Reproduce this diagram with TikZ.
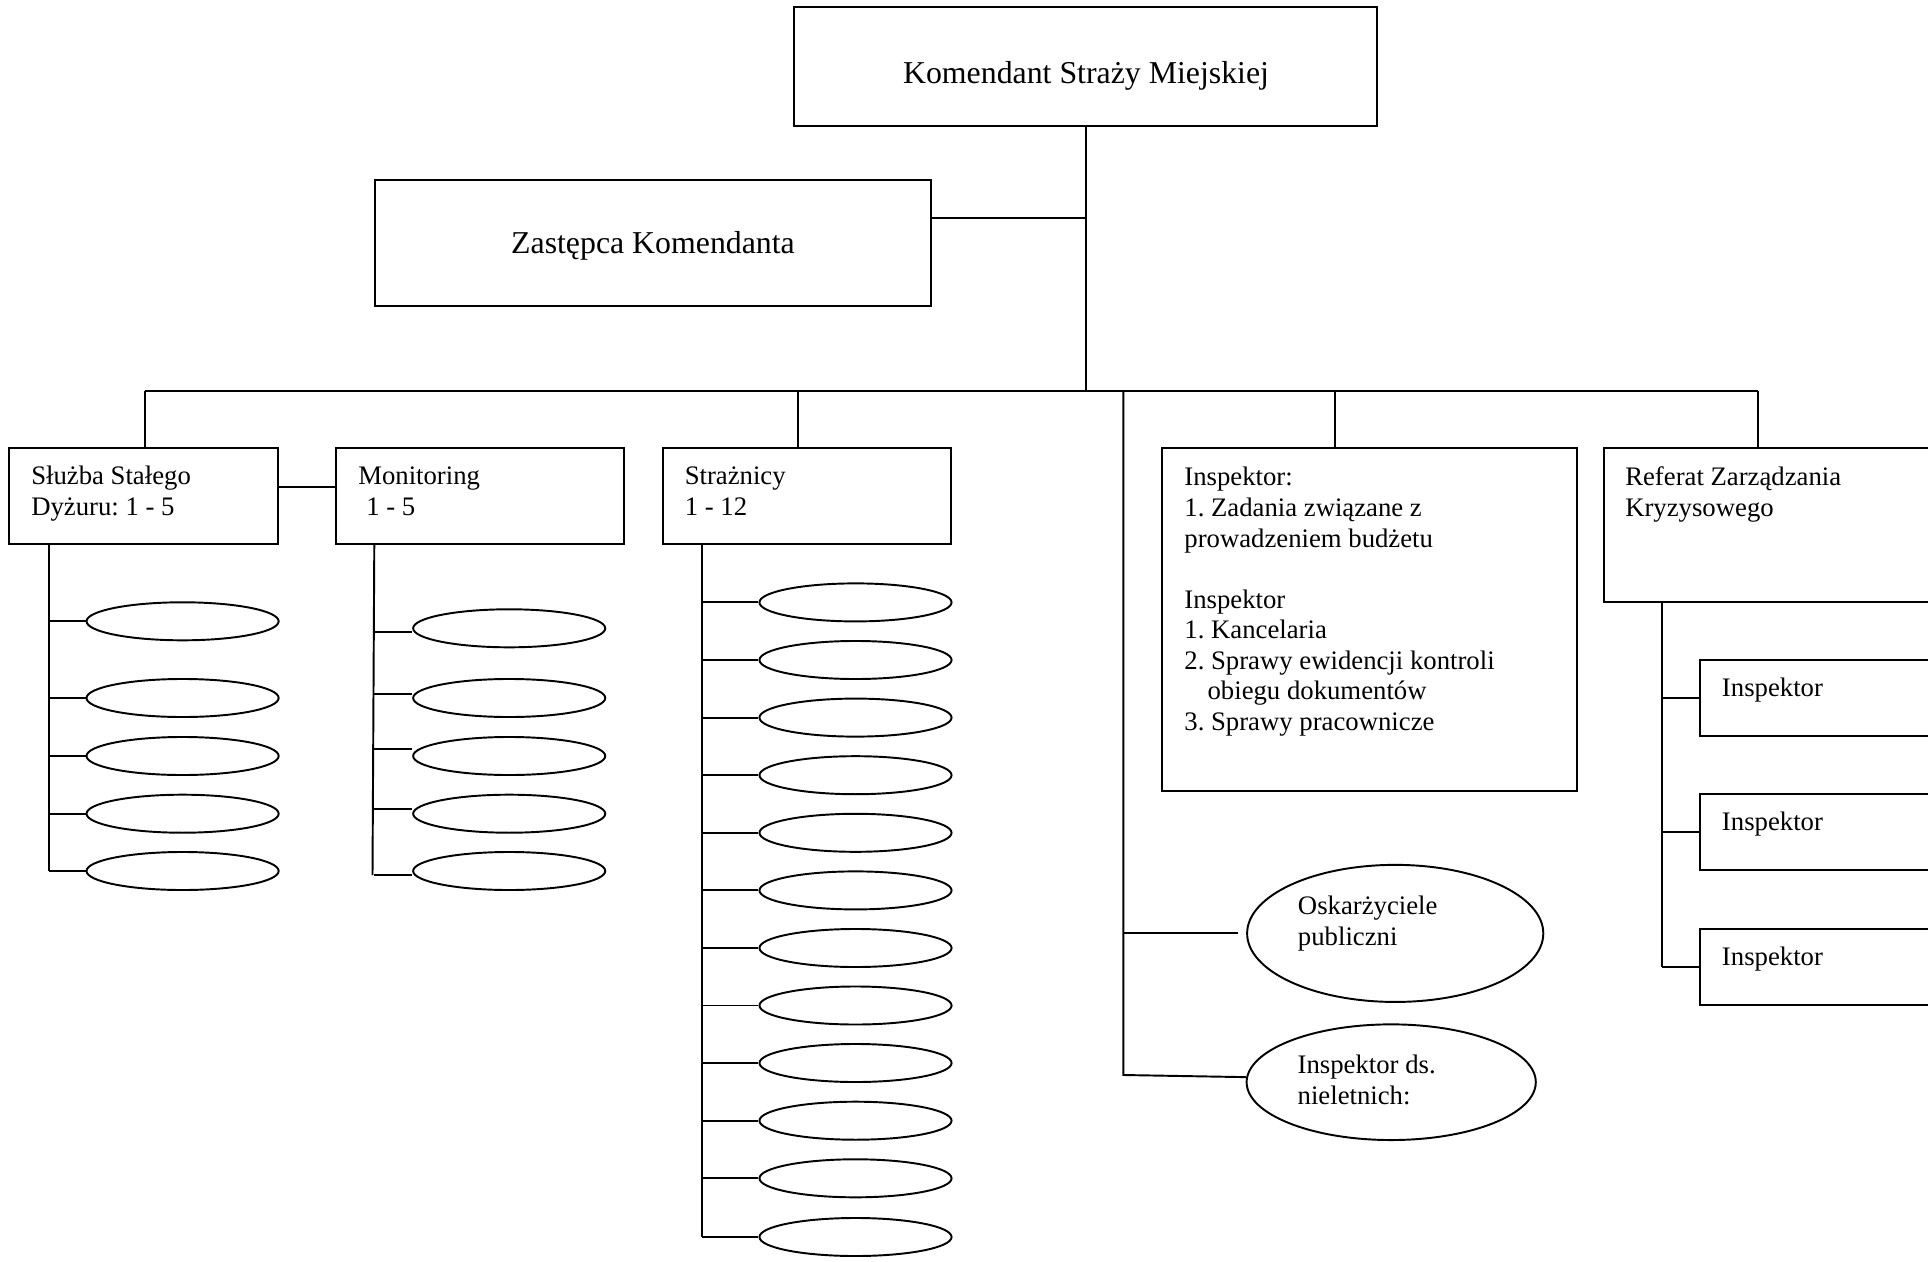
\documentclass[tikz,border=0pt]{standalone}
\usepackage{fontspec}
\setmainfont{Liberation Serif}
\usetikzlibrary{shapes.geometric}
\newcommand\bigfnt{\fontsize{9.05pt}{10.4pt}\selectfont\frenchspacing}
\newcommand\smallfnt{\fontsize{7.6pt}{8.68pt}\selectfont\frenchspacing}
\begin{document}
\frenchspacing
\begin{tikzpicture}[x=0.01cm, y=-0.01cm, line width=0.55pt,
  box/.style={draw, rectangle, inner sep=0pt},
  oval/.style={draw, ellipse, inner sep=0pt, minimum width=1.92cm, minimum height=0.38cm},
  bigoval/.style={draw, ellipse, inner sep=0pt},
  txt/.style={anchor=north west, inner sep=0pt, align=left, font=\smallfnt},
  bigtxt/.style={anchor=base, inner sep=0pt, font=\bigfnt}]
\useasboundingbox (0,0) rectangle (1928,1261);
\clip (0,0) rectangle (1928,1261);

% boxes
\node[box, minimum width=5.824cm, minimum height=1.193cm] (kom) at (1085.8,66.35) {};
\node[bigtxt] (komT) at (1086,84) {Komendant Straży Miejskiej};
\node[box, minimum width=5.565cm, minimum height=1.26cm] (zast) at (652.95,243) {};
\node[bigtxt] (zastT) at (653,253.5) {Zastępca Komendanta};

\node[box, minimum width=2.689cm, minimum height=0.957cm] (sluzba) at (143.75,496.15) {};
\node[txt] (sluzbaT) at (30.3,462.65) {\strut Służba Stałego\\Dyżuru: 1 - 5};
\node[box, minimum width=2.879cm, minimum height=0.957cm] (monit) at (480.25,496.15) {};
\node[txt] (monitT) at (357.3,462.65) {\strut Monitoring\\\hspace*{2.3pt}1 - 5};
\node[box, minimum width=2.883cm, minimum height=0.957cm] (straz) at (806.85,496.15) {};
\node[txt] (strazT) at (683.8,462.65) {\strut Strażnicy\\1 - 12};

\node[box, minimum width=4.15cm, minimum height=3.424cm] (insp) at (1369.8,619.5) {};
\node[txt] (inspT) at (1183.4,463.65) {\strut Inspektor:\\1. Zadania związane z\\prowadzeniem budżetu\\[8.68pt]Inspektor\\1. Kancelaria\\2. Sprawy ewidencji kontroli\\\hspace*{6.6pt}obiegu dokumentów\\3. Sprawy pracownicze};

\node[box, minimum width=4cm, minimum height=1.534cm] (ref) at (1803.8,525) {};
\node[txt] (refT) at (1624.3,463.65) {\strut Referat Zarządzania\\Kryzysowego};

\node[box, minimum width=3cm, minimum height=0.757cm] (sub1) at (1850,697.85) {};
\node[txt] (sub1T) at (1721,674.35) {\strut Inspektor};
\node[box, minimum width=3cm, minimum height=0.76cm] (sub2) at (1850,832.3) {};
\node[txt] (sub2T) at (1721,808.65) {\strut Inspektor};
\node[box, minimum width=3cm, minimum height=0.763cm] (sub3) at (1850,966.85) {};
\node[txt] (sub3T) at (1721,943.05) {\strut Inspektor};

% big ovals
\node[bigoval, minimum width=2.96cm, minimum height=1.37cm] (osk) at (1395.2,933.4) {};
\node[txt] (oskT) at (1297,892.25) {\strut Oskarżyciele\\publiczni};
\node[bigoval, minimum width=2.89cm, minimum height=1.156cm] (ids) at (1391.2,1082.2) {};
\node[txt] (idsT) at (1296.7,1051.35) {\strut Inspektor ds.\\nieletnich:};

% small ovals
\foreach \i/\yy in {1/621.3,2/698,3/756,4/813.7,5/871}
  \node[oval] (s\i) at (182.6,\yy) {};
\foreach \i/\yy in {1/628.3,2/698,3/756,4/813.7,5/871}
  \node[oval] (m\i) at (509.2,\yy) {};
\foreach \i/\yy in {1/602.4,2/660,3/717.6,4/775.2,5/832.8,6/890.4,7/948,8/1005.5,9/1063,10/1120.7,11/1178.3,12/1237}
  \node[oval] (z\i) at (855.5,\yy) {};

% bus
\coordinate (bus1) at (144.8,391);
\coordinate (bus2) at (797.8,391);
\coordinate (bus3) at (1085.8,391);
\coordinate (bus4) at (1123.4,391);
\coordinate (bus5) at (1335,391);
\coordinate (bus6) at (1758,391);
\draw (bus1) -- (bus6);
\draw (kom.south) -- (bus3);
\coordinate (zj) at (1085.8,218.3);
\draw (zast.east |- zj) -- (zj);
\draw (bus1) -- (bus1 |- sluzba.north);
\draw (bus2) -- (bus2 |- straz.north);
\draw (bus5) -- (bus5 |- insp.north);
\draw (bus6) -- (bus6 |- ref.north);
\coordinate (sm) at (300,487);
\draw (sm -| sluzba.east) -- (sm -| monit.west);

% long vertical
\coordinate (lvE) at (1123.4,1075);
\draw (bus4) -- (lvE) -- (ids.178);
\draw (bus4 |- osk.west) -- ([xshift=-0.08cm]osk.west);

% spines
\coordinate (sp1) at (48.8,544);
\draw (sp1) -- (sp1 |- s5);
\foreach \i in {1,...,5} \draw (sp1 |- s\i) -- (s\i.west);

\coordinate (sp2) at (374.3,544);
\coordinate (sp2b) at (372.5,875);
\draw (sp2) -- (sp2b);
\foreach \i/\cy in {1/632,2/694,3/749,4/809,5/875} {
  \coordinate (mc\i) at (373.5,\cy);
  \draw (mc\i) -- (mc\i -| m\i.west);
}

\coordinate (sp3) at (701.8,544);
\draw (sp3) -- (sp3 |- z12);
\foreach \i in {1,...,12} \draw (sp3 |- z\i) -- (z\i.west);

\coordinate (sp4) at (1662,601.7);
\draw (sp4) -- (sp4 |- sub3);
\foreach \i in {1,2,3} \draw (sp4 |- sub\i) -- (sub\i.west);
\end{tikzpicture}
\end{document}
